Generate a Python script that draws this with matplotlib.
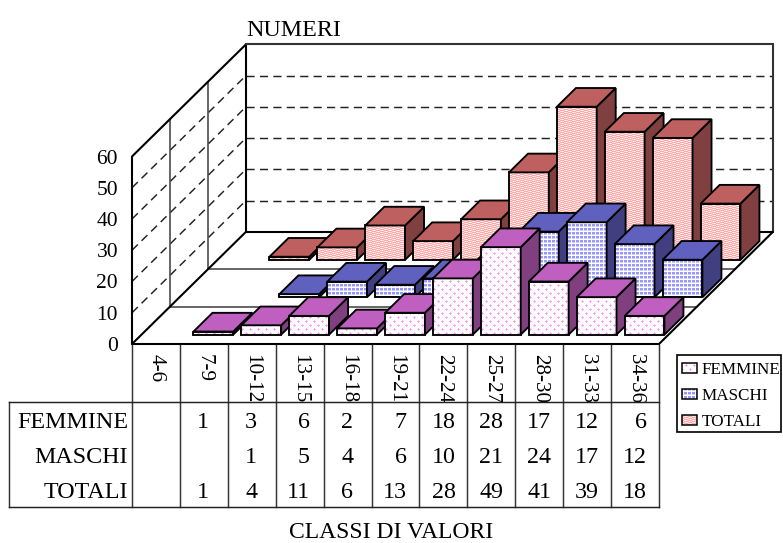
import matplotlib
matplotlib.use("Agg")
import matplotlib.pyplot as plt
import numpy as np
from matplotlib.colors import to_rgb
from matplotlib.patches import Polygon, Rectangle
from matplotlib.transforms import Bbox

CATEGORIES = ["4-6", "7-9", "10-12", "13-15", "16-18", "19-21", "22-24", "25-27", "28-30", "31-33", "34-36"]
FEMMINE = [None, 1, 3, 6, 2, 7, 18, 28, 17, 12, 6]
MASCHI = [None, None, 1, 5, 4, 6, 10, 21, 24, 17, 12]
TOTALI = [None, 1, 4, 11, 6, 13, 28, 49, 41, 39, 18]
SERIES_NAMES = ["FEMMINE", "MASCHI", "TOTALI"]
SERIES_VALUES = [FEMMINE, MASCHI, TOTALI]
Y_TICKS = [0, 10, 20, 30, 40, 50, 60]

W, H = 783, 543
X0, Y0 = 132.0, 344.0          # front-left floor corner in pixels
CAT_W = 527.0 / 11             # pixels per category
VAL_H = 187.5 / 60             # pixels per value unit
ROW_DX, ROW_DY = 38.0, 37.4    # pixels per depth row

TOP = {"FEMMINE": "#bf5fbf", "MASCHI": "#6060bf", "TOTALI": "#bf6060"}
SIDE = {"FEMMINE": "#804080", "MASCHI": "#404080", "TOTALI": "#804040"}

# fill-pattern tiles, one character per pixel
TILES = {
    "FEMMINE": (["..p.....", ".pPp....", "..p.....", "........",
                 "......p.", ".....pPp", "......p.", "........"],
                {".": "#ffffff", "p": "#ffb0ff", "P": "#ff8cff"}),
    "MASCHI": (["BBBw", "BBBw", "MMMw", "wwww"],
               {"w": "#ffffff", "B": "#9696ff", "M": "#ccccff"}),
    "TOTALI": (["PPPPLwLL", "LwLLPPPP", "PPPPLLwL", "LLwLPPPP"],
               {"w": "#ffffff", "P": "#ffa8a8", "L": "#ffdcdc"}),
}

plt.rcParams["font.family"] = ["Liberation Serif", "DejaVu Serif"]


def texture(name):
    rows, colours = TILES[name]
    tile = np.array([[to_rgb(colours[c]) for c in r] for r in rows])
    ny = H // tile.shape[0] + 1
    nx = W // tile.shape[1] + 1
    return np.tile(tile, (ny, nx, 1))[:H, :W]


TEXTURES = {n: texture(n) for n in SERIES_NAMES}

fig = plt.figure(figsize=(W / 100, H / 100), dpi=100)
ax = fig.add_axes([0, 0, 1, 1])
ax.set_xlim(-X0 / CAT_W, (W - X0) / CAT_W)
ax.set_ylim((Y0 - H) / VAL_H, Y0 / VAL_H)
ax.set_autoscale_on(False)
ax.axis("off")
px = fig.add_axes([0, 0, 1, 1])
px.set_xlim(0, W)
px.set_ylim(H, 0)
px.set_autoscale_on(False)
px.axis("off")
px.patch.set_alpha(0)


def proj(cat, val, depth):
    """Oblique projection of (category, value, depth row) onto the axes."""
    return (cat + depth * ROW_DX / CAT_W, val + depth * ROW_DY / VAL_H)


N = len(CATEGORIES)
TOPV = Y_TICKS[-1]
DEPTH = len(SERIES_NAMES)


def wall_line(a, b, **kw):
    ax.plot([a[0], b[0]], [a[1], b[1]], solid_capstyle="round", zorder=1, **kw)


# gridlines
DASH = dict(color="#222222", lw=1.05, dashes=(5.6, 3.6))
for v in Y_TICKS[1:-1]:
    wall_line(proj(0, v, DEPTH), proj(N, v, DEPTH), **DASH)
    wall_line(proj(0, v, 0), proj(0, v, DEPTH), **DASH)
# floor / wall divisions
for d in (1, 2):
    wall_line(proj(0, 0, d), proj(N, 0, d), color="#444444", lw=1.15)
    wall_line(proj(0, 0, d), proj(0, TOPV, d), color="#444444", lw=1.15)
# frame
FR = dict(color="black", lw=1.5)
wall_line(proj(0, 0, 0), proj(N, 0, 0), **FR)
wall_line(proj(0, 0, 0), proj(0, TOPV, 0), **FR)
wall_line(proj(0, TOPV, 0), proj(0, TOPV, DEPTH), **FR)
wall_line(proj(0, 0, 0), proj(0, 0, DEPTH), **FR)
wall_line(proj(0, 0, DEPTH), proj(0, TOPV, DEPTH), **FR)
wall_line(proj(0, 0, DEPTH), proj(N, 0, DEPTH), **FR)
wall_line(proj(0, TOPV, DEPTH), proj(N, TOPV, DEPTH), color="#333333", lw=1.5)
wall_line(proj(N, 0, DEPTH), proj(N, TOPV, DEPTH), color="#333333", lw=1.5)
wall_line(proj(N, 0, 0), proj(N, 0, DEPTH), **FR)

# bars, back row first, left to right
GAP_X = 0.085
GAP_D = 0.25
EDGE = dict(edgecolor="black", lw=1.35, joinstyle="miter")
z = 2.0
for row in range(DEPTH - 1, -1, -1):
    name = SERIES_NAMES[row]
    vals = SERIES_VALUES[row]
    for i, v in enumerate(vals):
        if v is None:
            continue
        l, r = i + GAP_X, i + 1 - GAP_X
        f, b = row + GAP_D, row + 1 - GAP_D
        front = [proj(l, 0, f), proj(r, 0, f), proj(r, v, f), proj(l, v, f)]
        side = [proj(r, 0, f), proj(r, 0, b), proj(r, v, b), proj(r, v, f)]
        top = [proj(l, v, f), proj(r, v, f), proj(r, v, b), proj(l, v, b)]
        outline = ax.add_patch(Polygon(front, closed=True, fill=False, zorder=z + 0.2, **EDGE))
        im = ax.imshow(TEXTURES[name], extent=(*ax.get_xlim(), *ax.get_ylim()), origin="upper",
                       aspect="auto", interpolation="nearest", zorder=z + 0.1)
        im.set_clip_path(outline)
        ax.add_patch(Polygon(side, closed=True, facecolor=SIDE[name], zorder=z + 0.3, **EDGE))
        ax.add_patch(Polygon(top, closed=True, facecolor=TOP[name], zorder=z + 0.4, **EDGE))
        z += 1

# value axis labels
FS_TICK = 15.5
for v in Y_TICKS:
    px.text(118, Y0 - v * VAL_H, str(v), ha="right", va="center_baseline", fontsize=FS_TICK, color="black")

# data table
TX0 = 9.3
Y_TABLE_TOP, Y_TABLE_MID, Y_TABLE_BOT = 344.5, 402.0, 507.0
for i in range(N + 1):
    x = X0 + i * CAT_W
    px.plot([x, x], [Y_TABLE_TOP, Y_TABLE_BOT], color="#333333", lw=1.05)
px.plot([TX0, TX0], [Y_TABLE_MID, Y_TABLE_BOT], color="#333333", lw=1.05)
px.plot([TX0, X0 + N * CAT_W], [Y_TABLE_MID, Y_TABLE_MID], color="#222222", lw=1.05)
px.plot([TX0, X0 + N * CAT_W], [Y_TABLE_BOT, Y_TABLE_BOT], color="#222222", lw=1.05)

clip = Bbox([[X0, H - Y_TABLE_MID], [X0 + N * CAT_W, H - Y_TABLE_TOP]])
for i, c in enumerate(CATEGORIES):
    t = px.text(X0 + (i + 0.5) * CAT_W, 354, c, rotation=-90, ha="center", va="top",
                fontsize=15.2, color="black")
    t.set_clip_box(clip)
    t.set_clip_on(True)

CELL_RIGHT = [0, 209, 257, 310, 353, 407, 456, 503, 551, 599, 647]
ROW_BASE = [428, 463, 498]
ROW_LABEL_X = [17, 34, 44]
for name, vals, yb, lx in zip(SERIES_NAMES, SERIES_VALUES, ROW_BASE, ROW_LABEL_X):
    px.text(lx, yb, name, ha="left", va="baseline", fontsize=17.3, color="black")
    for v, xr in zip(vals, CELL_RIGHT):
        if v is not None:
            px.text(xr, yb, str(v), ha="right", va="baseline", fontsize=17.3, color="black")

# titles
px.text(246, 35.5, "NUMERI", ha="left", va="baseline", fontsize=17.3, color="black")
px.text(391.5, 537.5, "CLASSI DI VALORI", ha="center", va="baseline", fontsize=17, color="black")

# legend
px.add_patch(Rectangle((677, 355), 104, 77, facecolor="white", edgecolor="black", lw=1.2, zorder=3))
LEG_Y = [368, 394, 420]
for name, yc in zip(SERIES_NAMES, LEG_Y):
    box = px.add_patch(Rectangle((682, yc - 5), 15, 10, fill=False, edgecolor="black", lw=1.1, zorder=5))
    im = px.imshow(TEXTURES[name], extent=(0, W, H, 0), origin="upper", aspect="auto",
                   interpolation="nearest", zorder=4)
    im.set_clip_path(box)
    px.text(702, yc, name, ha="left", va="center_baseline", fontsize=12.3, color="black", zorder=6)

fig.savefig("out.png", dpi=100)
